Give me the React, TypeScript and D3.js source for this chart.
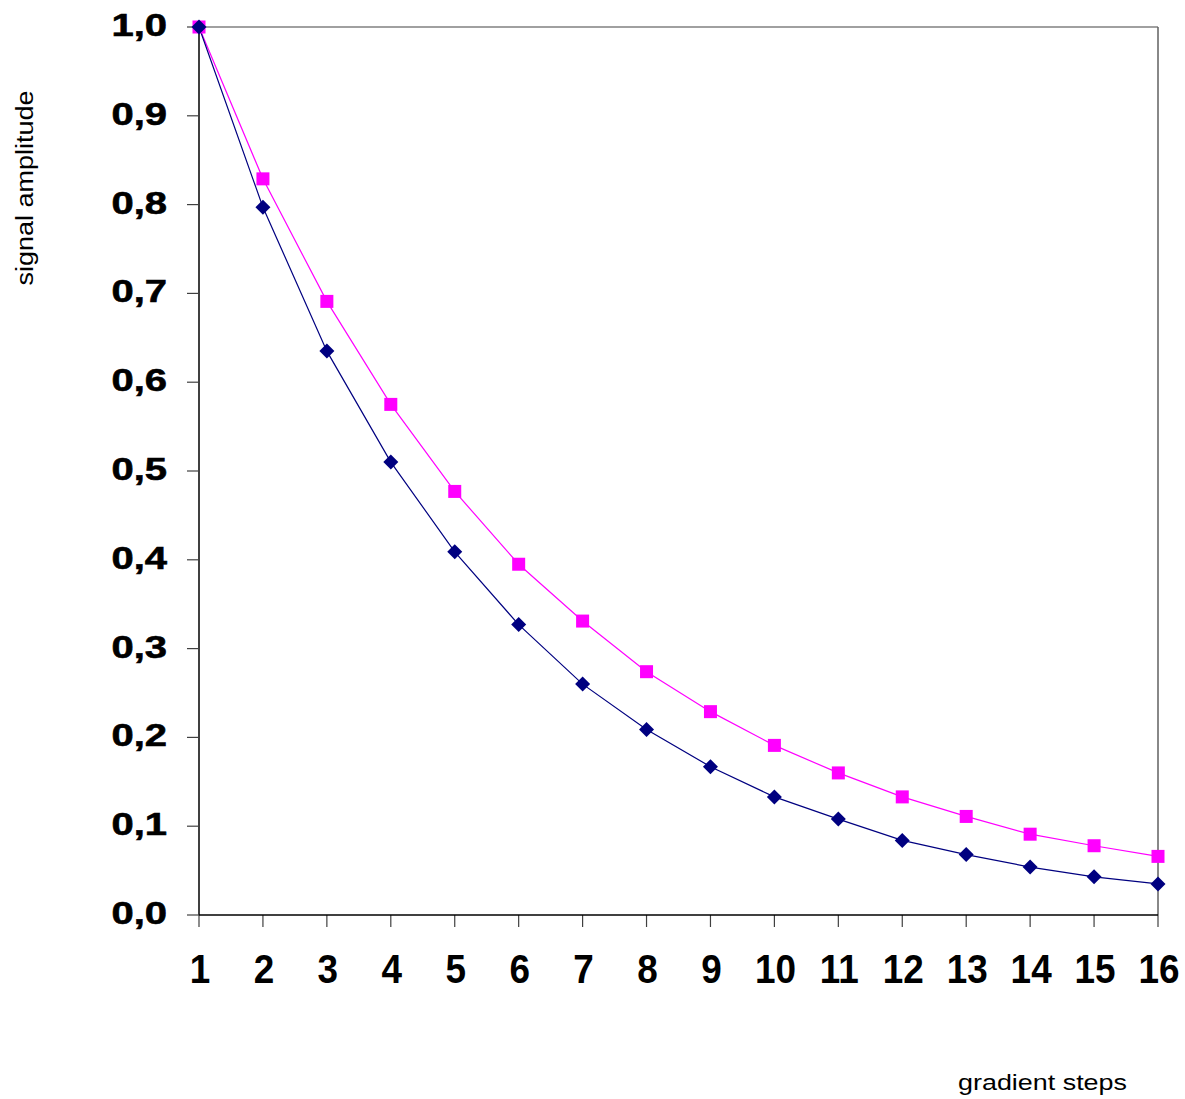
import React from "react";
import * as d3 from "d3";

const steps = [1, 2, 3, 4, 5, 6, 7, 8, 9, 10, 11, 12, 13, 14, 15, 16];
const seriesBlue = [1.0, 0.797, 0.635, 0.51, 0.409, 0.327, 0.26, 0.209, 0.167, 0.133, 0.108, 0.084, 0.068, 0.054, 0.043, 0.035];
const seriesPink = [1.0, 0.829, 0.691, 0.575, 0.477, 0.395, 0.331, 0.274, 0.229, 0.191, 0.16, 0.133, 0.111, 0.091, 0.078, 0.066];
const yTicks = [0, 0.1, 0.2, 0.3, 0.4, 0.5, 0.6, 0.7, 0.8, 0.9, 1.0];
const yTitle = "signal amplitude";
const xTitle = "gradient steps";

const W = 1185;
const H = 1099;
const left = 199;
const right = 1158;
const top = 27;
const bottom = 915;

export default function App() {
  const x = d3.scaleLinear().domain([1, 16]).range([left, right]);
  const y = d3.scaleLinear().domain([0, 1]).range([bottom, top]);
  const line = d3
    .line<number>()
    .x((_, i) => x(steps[i]))
    .y((d) => y(d));
  const fmt = (v: number) => v.toFixed(1).replace(".", ",");
  const font = "'Liberation Sans', Arial, sans-serif";

  return (
    <svg
      width={W}
      height={H}
      style={{ position: "absolute", left: 0, top: 0, background: "#fff" }}
      fontFamily={font}
    >
      <rect x={0} y={0} width={W} height={H} fill="#fff" />
      {/* frame */}
      <line x1={left} x2={right} y1={top} y2={top} stroke="#808080" strokeWidth={1.5} />
      <line x1={right} x2={right} y1={top} y2={bottom} stroke="#606060" strokeWidth={1.5} />
      {/* y ticks */}
      {yTicks.map((t) => (
        <g key={"yt" + t}>
          <line x1={187} x2={left} y1={y(t)} y2={y(t)} stroke="#404040" strokeWidth={1.2} />
          <text
            x={0}
            y={0}
            fontSize={32}
            fontWeight="bold"
            textAnchor="end"
            transform={`translate(167,${y(t) + 9}) scale(1.25,1)`}
            fill="#000"
            stroke="#000"
            strokeWidth={0.6}
          >
            {fmt(t)}
          </text>
        </g>
      ))}
      {/* x ticks */}
      {steps.map((s) => (
        <g key={"xt" + s}>
          <line x1={x(s)} x2={x(s)} y1={bottom} y2={bottom + 12} stroke="#404040" strokeWidth={1.2} />
          <text
            x={0}
            y={0}
            fontSize={41}
            fontWeight="bold"
            textAnchor="middle"
            transform={`translate(${x(s) + 1},983) scale(0.9,1)`}
            fill="#000"
          >
            {s}
          </text>
        </g>
      ))}
      {/* axes */}
      <line x1={left} x2={left} y1={top} y2={bottom} stroke="#404040" strokeWidth={2} />
      <line x1={left} x2={right} y1={bottom} y2={bottom} stroke="#000" strokeWidth={1.5} />

      {/* series lines */}
      <path d={line(seriesPink) || ""} fill="none" stroke="#FF00FF" strokeWidth={1.2} />
      <path d={line(seriesBlue) || ""} fill="none" stroke="#000080" strokeWidth={1.2} />

      {/* markers */}
      {seriesPink.map((v, i) => (
        <rect
          key={"p" + i}
          x={x(steps[i]) - 6.5}
          y={y(v) - 6.5}
          width={13}
          height={13}
          fill="#FF00FF"
        />
      ))}
      {seriesBlue.map((v, i) => {
        const cx = x(steps[i]);
        const cy = y(v);
        const r = 7.5;
        return (
          <path
            key={"b" + i}
            d={`M${cx},${cy - r}L${cx + r},${cy}L${cx},${cy + r}L${cx - r},${cy}Z`}
            fill="#000080"
          />
        );
      })}

      {/* axis titles */}
      <text
        x={0}
        y={0}
        fontSize={23}
        textAnchor="middle"
        transform={`translate(33,188) rotate(-90)`}
        textLength={195}
        lengthAdjust="spacingAndGlyphs"
        fill="#000"
      >
        {yTitle}
      </text>
      <text
        x={958}
        y={1090}
        fontSize={22}
        textLength={169}
        lengthAdjust="spacingAndGlyphs"
        fill="#000"
      >
        {xTitle}
      </text>
    </svg>
  );
}
